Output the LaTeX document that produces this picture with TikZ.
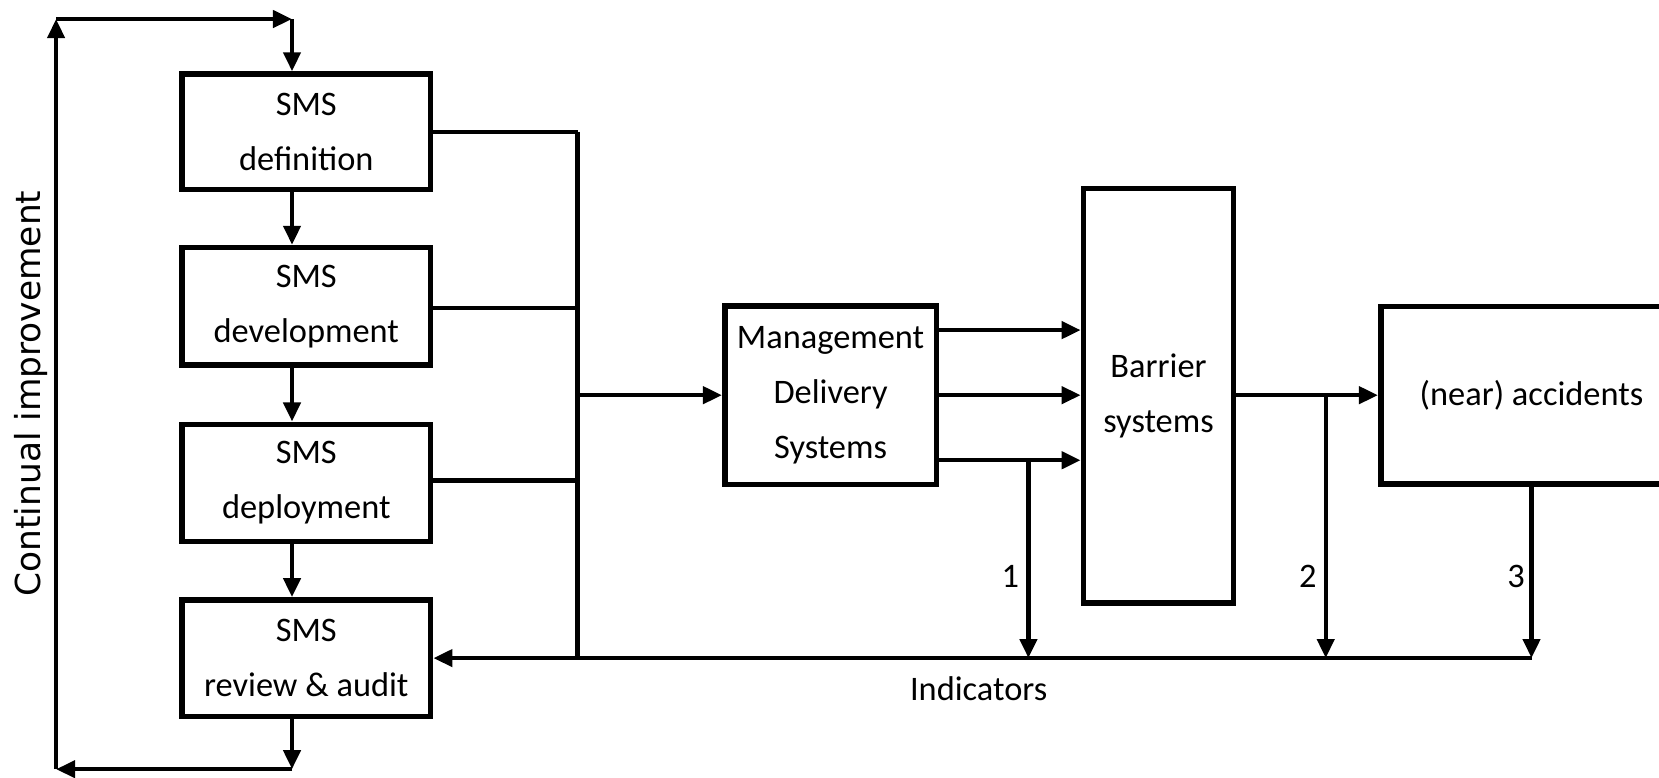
\documentclass[tikz,border=0pt]{standalone}
\usepackage{fontspec}
\setmainfont{Carlito}
\newfontfamily\dejavu{DejaVu Sans}
\usetikzlibrary{arrows.meta}
\tikzset{
  box/.style={draw, line width=5.2pt, inner sep=0pt, align=center, font=\fontsize{32.5}{52}\selectfont},
  conn/.style={line width=4.2pt},
  arr/.style={conn, -{Triangle[length=18pt,width=16pt]}},
  lbl/.style={font=\fontsize{32.5}{40}\selectfont, inner sep=0pt}
}
\begin{document}
\begin{tikzpicture}[x=1pt,y=-1pt]
\useasboundingbox (0,0) rectangle (1568,735);
\clip (0,0) rectangle (1568,735);
% left column boxes
\node[box, minimum width=235pt, minimum height=109pt] (b1) at (289.5,124.5) {SMS\\definition};
\node[box, minimum width=235pt, minimum height=111pt] (b2) at (289.5,289.5) {SMS\\development};
\node[box, minimum width=235pt, minimum height=111pt] (b3) at (289.5,456.5) {SMS\\deployment};
\node[box, minimum width=235pt, minimum height=110pt] (b4) at (289.5,622) {SMS\\review \& audit};
% middle and right
\node[box, minimum width=200pt, minimum height=169pt] (mds) at (785,373.5) {Management\\Delivery\\Systems};
\node[box, minimum width=142pt, minimum height=392pt] (bar) at (1095,374) {Barrier\\systems};
\node[box, minimum width=285pt, minimum height=168pt] (acc) at (1447.5,373.5) {(near) accidents};
% helper coordinates
\coordinate (col) at (276,0);
\coordinate (tl) at (53,18);
\coordinate (tr) at (276,18);
\coordinate (bl) at (53,727);
\coordinate (br) at (276,727);
\coordinate (bus1) at (546,124.5);
\coordinate (bus2) at (546,291);
\coordinate (bus3) at (546,454);
\coordinate (busm) at (546,373.5);
\coordinate (bus4) at (546,622);
\coordinate (o1) at (0,312);
\coordinate (o2) at (0,373.5);
\coordinate (o3) at (0,435);
\coordinate (j1) at (972,435);
\coordinate (j2) at (1253,373.5);
\coordinate (ind) at (0,622);
% loop
\draw[arr] (b4.south -| col) -- (br);
\draw[arr] (br) -- (bl);
\draw[arr] (bl) -- (tl);
\draw[arr] (tl) -- (tr);
\draw[arr] (tr) -- (b1.north -| col);
\draw[arr] (b1.south -| col) -- (b2.north -| col);
\draw[arr] (b2.south -| col) -- (b3.north -| col);
\draw[arr] (b3.south -| col) -- (b4.north -| col);
% bus
\draw[conn] (b1.east |- bus1) -- (bus1);
\draw[conn] (b2.east |- bus2) -- (bus2);
\draw[conn] (b3.east |- bus3) -- (bus3);
\draw[conn] (bus1) -- (bus4);
\draw[arr] (bus4) -- (b4.east |- bus4);
\draw[arr] (busm) -- (mds.west);
% MDS to barrier
\draw[arr] (mds.east |- o1) -- (bar.west |- o1);
\draw[arr] (mds.east |- o2) -- (bar.west |- o2);
\draw[arr] (mds.east |- o3) -- (bar.west |- o3);
\draw[arr] (bar.east |- o2) -- (acc.west);
% indicator branches
\draw[arr] (j1) -- (j1 |- ind);
\draw[arr] (j2) -- (j2 |- ind);
\draw[arr] (acc.south) -- (acc.south |- ind);
\draw[conn] (bus4) -- (acc.south |- ind);
% labels
\node[lbl] (l1) at (955,545) {1};
\node[lbl] (l2) at (1236,545) {2};
\node[lbl] (l3) at (1433,545) {3};
\node[lbl] (indl) at (925,651) {Indicators};
\node[rotate=90, inner sep=0pt, font=\dejavu\fontsize{32.5}{40}\selectfont] (ci) at (29,372) {Continual improvement};
\end{tikzpicture}
\end{document}
